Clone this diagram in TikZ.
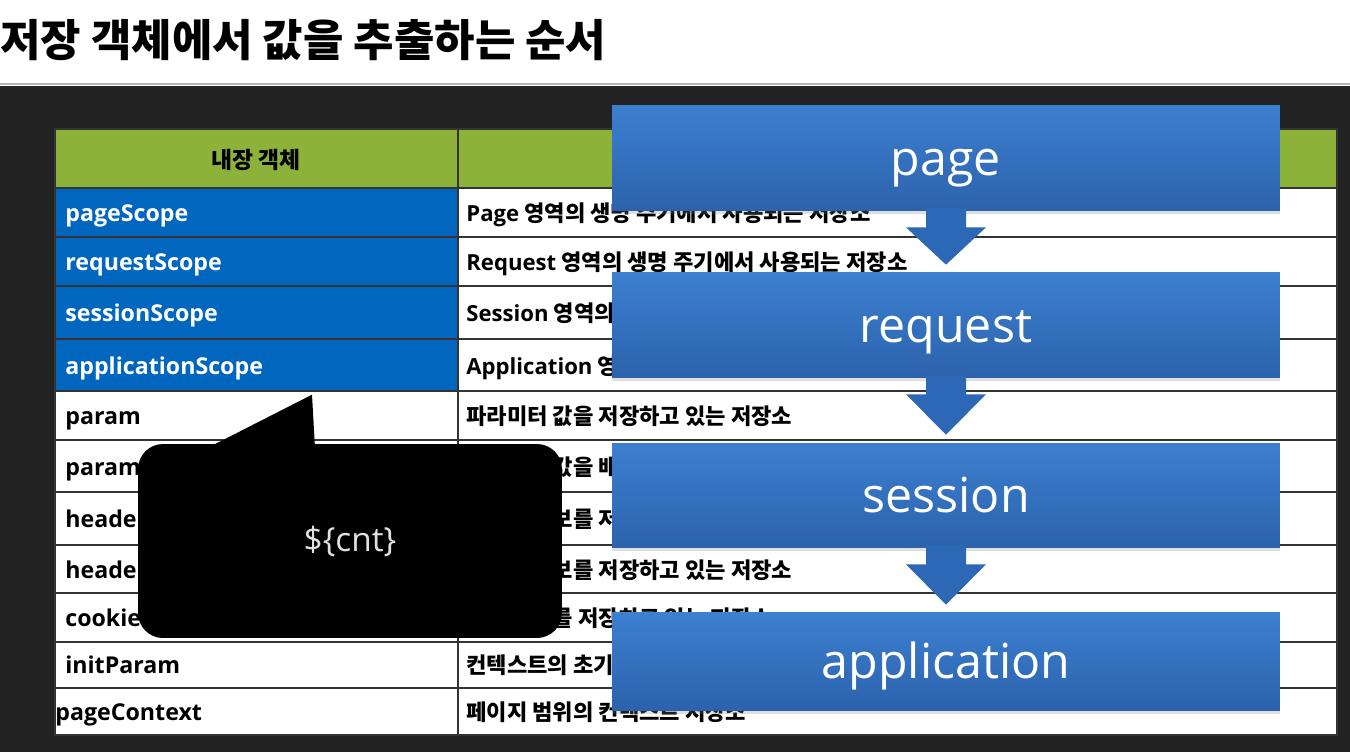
\documentclass[tikz,border=0pt]{standalone}
\usepackage{fontspec}
\setmainfont{Open Sans}
\newfontfamily\krfont{Noto Sans CJK KR}
\newfontfamily\enfont{Open Sans}
\usetikzlibrary{calc,shadows}

\definecolor{slidebg}{RGB}{34,34,34}
\definecolor{headgreen}{RGB}{141,178,58}
\definecolor{scopeblue}{RGB}{0,102,190}
\definecolor{boxtop}{RGB}{60,128,208}
\definecolor{boxbot}{RGB}{44,98,172}
\definecolor{flowblue}{RGB}{45,104,182}
\definecolor{gridline}{RGB}{52,52,52}

\begin{document}
\begin{tikzpicture}[x=0.02cm, y=-0.02cm, every node/.style={inner sep=0pt},
  objname/.style={anchor=west, font=\enfont\bfseries\fontsize{13.2}{16}\selectfont, text height=10.5pt, text depth=0pt},
  desc/.style={anchor=west, font=\krfont\bfseries\fontsize{12.6}{15}\selectfont, text height=10.5pt, text depth=0pt},
  stage/.style={minimum width=13.36cm, minimum height=2.1cm, top color=boxtop, bottom color=boxbot, text=white,
    font=\enfont\fontsize{27.5}{32}\selectfont, text height=22pt, text depth=2pt,
    drop shadow={opacity=0.25, shadow xshift=0pt, shadow yshift=-2pt}},
  flow/.style={fill=flowblue},
  bubble/.style={fill=black, rounded corners=0.5cm, minimum width=8.48cm, minimum height=3.88cm,
    text=white!88!black, font=\enfont\fontsize{19}{22}\selectfont}]
  \useasboundingbox (0,0) rectangle (1350,752);
  \fill[white] (0,0) rectangle (1350,86);
  \fill[slidebg] (0,86) rectangle (1350,752);
  \draw[gray!60, line width=1pt] (0,84) -- (1350,84);
  \node[anchor=west, font=\krfont\bfseries\fontsize{25}{30}\selectfont] (title) at (0,40) {저장 객체에서 값을 추출하는 순서};

  \fill[white] (55,129) rectangle (1337,735);
  \fill[headgreen] (55,129) rectangle (1337,188);
  \fill[scopeblue] (55,188) rectangle (458,391);
  \node[font=\krfont\bfseries\fontsize{13}{15}\selectfont] (headobj) at (256,160) {내장 객체};

  \node[objname, text=white] (pagescope) at (65,212) {pageScope};
  \node[objname, text=white] (requestscope) at (65,261) {requestScope};
  \node[objname, text=white] (sessionscope) at (65,312) {sessionScope};
  \node[objname, text=white] (appscope) at (65,365) {applicationScope};
  \node[objname] (param) at (65,415) {param};
  \node[objname] (paramvalues) at (65,466) {paramValues};
  \node[objname] (header) at (65,518) {header};
  \node[objname] (headervalues) at (65,569) {headerValues};
  \node[objname] (cookie) at (65,617) {cookie};
  \node[objname] (initparam) at (65,664) {initParam};
  \node[objname] (pagecontext) at (55,711) {pageContext};

  \node[desc] (descpage) at (466,212) {{\enfont Page} 영역의 생명 주기에서 사용되는 저장소};
  \node[desc] (descrequest) at (466,261) {{\enfont Request} 영역의 생명 주기에서 사용되는 저장소};
  \node[desc] (descsession) at (466,312) {{\enfont Session} 영역의 생명 주기에서 사용되는 저장소};
  \node[desc] (descapp) at (466,365) {{\enfont Application} 영역의 생명 주기에서 사용되는 저장소};
  \node[desc] (descparam) at (466,415) {파라미터 값을 저장하고 있는 저장소};
  \node[desc] (descparamvalues) at (466,466) {파라미터 값을 배열로 저장하고 있는 저장소};
  \node[desc] (descheader) at (466,518) {헤더의 정보를 저장하고 있는 저장소};
  \node[desc] (descheadervalues) at (466,569) {헤더값 정보를 저장하고 있는 저장소};
  \node[desc] (desccookie) at (466,617) {쿠키 정보를 저장하고 있는 저장소};
  \node[desc] (descinit) at (466,664) {컨텍스트의 초기화 정보 저장소};
  \node[desc] (desccontext) at (466,711) {페이지 범위의 컨텍스트 저장소};

  \draw[gridline, line width=0.9pt] (55,129) rectangle (1337,735);
  \draw[gridline, line width=0.9pt] (458,129) -- (458,735);
  \draw[gridline, line width=0.9pt] (55,188) -- (1337,188) (55,237) -- (1337,237) (55,286) -- (1337,286)
    (55,339) -- (1337,339) (55,391) -- (1337,391) (55,440) -- (1337,440) (55,492) -- (1337,492)
    (55,545) -- (1337,545) (55,593) -- (1337,593) (55,642) -- (1337,642) (55,688) -- (1337,688);

  \node[bubble, text height=14pt, text depth=2pt] (cnt) at (350,541) {\$\{cnt\}};
  \fill[black] ($(cnt.north)+(-142,4)$) -- ($(cnt.north)+(-38,-49)$) -- ($(cnt.north)+(-35,4)$) -- cycle;

  \node[stage] (page) at (946,157.5) {page};
  \node[stage] (request) at (946,324.5) {request};
  \node[stage, minimum height=2.08cm] (session) at (946,495) {session};
  \node[stage, minimum height=1.96cm] (application) at (946,661) {application};

  \fill[flow] ($(page.south)+(-20,-2)$) -- ($(page.south)+(-20,17)$) -- ($(page.south)+(-40,17)$)
    -- ($(request.north)+(0,-7)$) -- ($(page.south)+(40,17)$) -- ($(page.south)+(20,17)$) -- ($(page.south)+(20,-2)$) -- cycle;
  \fill[flow] ($(request.south)+(-20,-2)$) -- ($(request.south)+(-20,17)$) -- ($(request.south)+(-40,17)$)
    -- ($(session.north)+(0,-8)$) -- ($(request.south)+(40,17)$) -- ($(request.south)+(20,17)$) -- ($(request.south)+(20,-2)$) -- cycle;
  \fill[flow] ($(session.south)+(-20,-2)$) -- ($(session.south)+(-20,17)$) -- ($(session.south)+(-40,17)$)
    -- ($(application.north)+(0,-7)$) -- ($(session.south)+(40,17)$) -- ($(session.south)+(20,17)$) -- ($(session.south)+(20,-2)$) -- cycle;
\end{tikzpicture}
\end{document}
